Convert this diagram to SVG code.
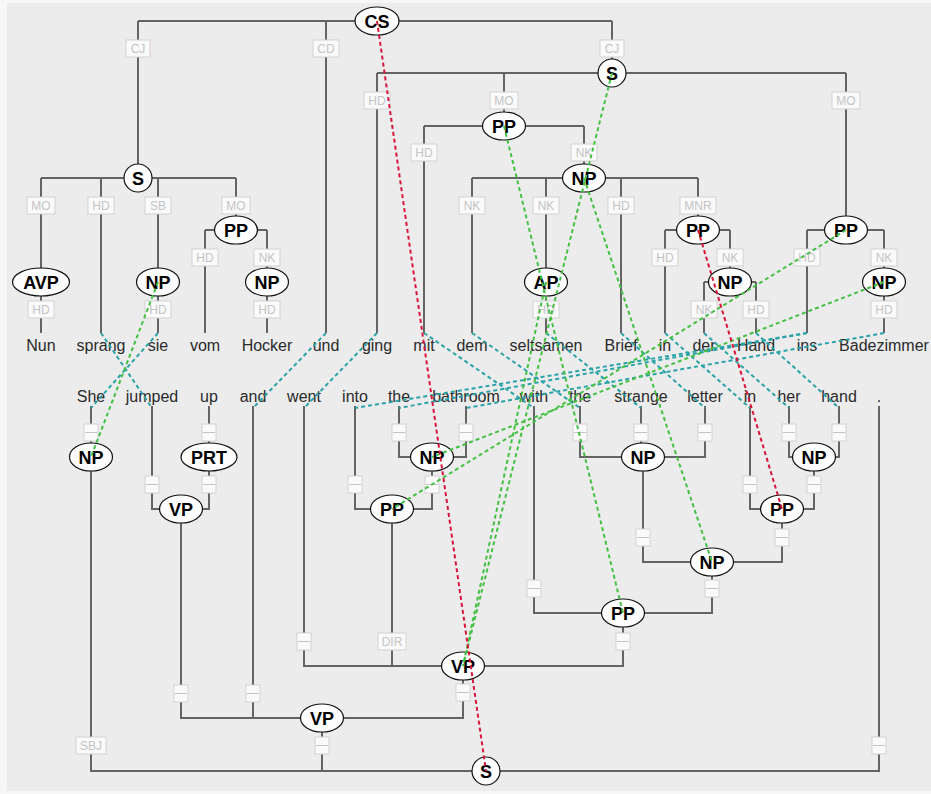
<svg xmlns="http://www.w3.org/2000/svg" width="931" height="794" viewBox="0 0 931 794">
<style>
.bg{fill:#ececec}
.e{fill:none;stroke:#646464;stroke-width:2}
.lb rect{fill:#fafafa;stroke:#d2d2d2;stroke-width:1}
.lb text{font-family:"Liberation Sans",Arial,sans-serif;font-size:12px;fill:#c4c4c4;text-anchor:middle}
.n ellipse{fill:#fdfdfd;stroke:#111;stroke-width:1.2}
.n text{font-family:"Liberation Sans",Arial,sans-serif;font-size:18px;font-weight:bold;fill:#000;text-anchor:middle}
.w{font-family:"Liberation Sans",Arial,sans-serif;font-size:16px;fill:#2a2a2a;text-anchor:middle}
.al{fill:none;stroke-width:2;stroke-dasharray:4 3}
.red{stroke:#d8143a}
.grn{stroke:#44c044}
.tea{stroke:#2aa3a8}
</style>
<rect x="0" y="0" width="931" height="794" fill="#f7f7f7"/>
<rect class="bg" x="7" y="3" width="924" height="788"/>

<g id="connectors">
<g id="tree-edges" class="e">
<path d="M138,21 H612 M138,21 V178 M326,21 V333 M612,21 V73"/>
<path d="M377,73 H846 M377,73 V333 M504,73 V126 M846,73 V230"/>
<path d="M424,126 H584 M424,126 V333 M584,126 V178"/>
<path d="M472,178 H698 M472,178 V333 M546,178 V333 M621,178 V333 M698,178 V230"/>
<path d="M665,230 H730 M665,230 V333 M730,230 V282 M704,282 H756 M704,282 V333 M756,282 V333"/>
<path d="M807,230 H884 M807,230 V333 M884,230 V333"/>
<path d="M41,178 H236 M41,178 V333 M101,178 V333 M158,178 V333 M236,178 V230"/>
<path d="M205,230 H267 M205,230 V333 M267,230 V333"/>
<path d="M91,406 V771 H879 V406"/>
<path d="M152,406 V509 H209 V406"/>
<path d="M181,509 V718 H463 V666"/>
<path d="M253,406 V718"/>
<path d="M304,406 V666 H623 V613"/>
<path d="M355,406 V509 H432 V457"/>
<path d="M399,406 V457 H466 V406"/>
<path d="M392,509 V666"/>
<path d="M534,406 V613 H712 V562"/>
<path d="M580,406 V457 H705 V406 M641,406 V457"/>
<path d="M643,457 V562 H782 V509"/>
<path d="M750,406 V509 H814 V457"/>
<path d="M789,406 V457 H839 V406"/>
<path d="M322,718 V771"/>
</g>
<g id="edge-labels" class="lb">
<rect x="126" y="40" width="24" height="17"/><text x="138" y="53">CJ</text>
<rect x="313" y="40" width="26" height="17"/><text x="326" y="53">CD</text>
<rect x="600" y="40" width="24" height="17"/><text x="612" y="53">CJ</text>
<rect x="364" y="92" width="26" height="17"/><text x="377" y="105">HD</text>
<rect x="490" y="92" width="28" height="17"/><text x="504" y="105">MO</text>
<rect x="832" y="92" width="28" height="17"/><text x="846" y="105">MO</text>
<rect x="411" y="144" width="26" height="17"/><text x="424" y="157">HD</text>
<rect x="571" y="144" width="26" height="17"/><text x="584" y="157">NK</text>
<rect x="27" y="197" width="28" height="17"/><text x="41" y="210">MO</text>
<rect x="88" y="197" width="26" height="17"/><text x="101" y="210">HD</text>
<rect x="145" y="197" width="26" height="17"/><text x="158" y="210">SB</text>
<rect x="222" y="197" width="28" height="17"/><text x="236" y="210">MO</text>
<rect x="459" y="197" width="26" height="17"/><text x="472" y="210">NK</text>
<rect x="533" y="197" width="26" height="17"/><text x="546" y="210">NK</text>
<rect x="608" y="197" width="26" height="17"/><text x="621" y="210">HD</text>
<rect x="680" y="197" width="36" height="17"/><text x="698" y="210">MNR</text>
<rect x="192" y="249" width="26" height="17"/><text x="205" y="262">HD</text>
<rect x="254" y="249" width="26" height="17"/><text x="267" y="262">NK</text>
<rect x="652" y="249" width="26" height="17"/><text x="665" y="262">HD</text>
<rect x="717" y="249" width="26" height="17"/><text x="730" y="262">NK</text>
<rect x="794" y="249" width="26" height="17"/><text x="807" y="262">HD</text>
<rect x="871" y="249" width="26" height="17"/><text x="884" y="262">NK</text>
<rect x="28" y="301" width="26" height="17"/><text x="41" y="314">HD</text>
<rect x="145" y="301" width="26" height="17"/><text x="158" y="314">HD</text>
<rect x="254" y="301" width="26" height="17"/><text x="267" y="314">HD</text>
<rect x="533" y="301" width="26" height="17"/><text x="546" y="314">HD</text>
<rect x="691" y="301" width="26" height="17"/><text x="704" y="314">NK</text>
<rect x="743" y="301" width="26" height="17"/><text x="756" y="314">HD</text>
<rect x="871" y="301" width="26" height="17"/><text x="884" y="314">HD</text>
<rect x="84" y="424" width="14" height="17"/><text x="91" y="436" font-size="8">—</text>
<rect x="202" y="424" width="14" height="17"/><text x="209" y="436" font-size="8">—</text>
<rect x="392" y="424" width="14" height="17"/><text x="399" y="436" font-size="8">—</text>
<rect x="459" y="424" width="14" height="17"/><text x="466" y="436" font-size="8">—</text>
<rect x="573" y="424" width="14" height="17"/><text x="580" y="436" font-size="8">—</text>
<rect x="634" y="424" width="14" height="17"/><text x="641" y="436" font-size="8">—</text>
<rect x="698" y="424" width="14" height="17"/><text x="705" y="436" font-size="8">—</text>
<rect x="782" y="424" width="14" height="17"/><text x="789" y="436" font-size="8">—</text>
<rect x="832" y="424" width="14" height="17"/><text x="839" y="436" font-size="8">—</text>
<rect x="145" y="476" width="14" height="17"/><text x="152" y="488" font-size="8">—</text>
<rect x="202" y="476" width="14" height="17"/><text x="209" y="488" font-size="8">—</text>
<rect x="348" y="476" width="14" height="17"/><text x="355" y="488" font-size="8">—</text>
<rect x="425" y="476" width="14" height="17"/><text x="432" y="488" font-size="8">—</text>
<rect x="743" y="476" width="14" height="17"/><text x="750" y="488" font-size="8">—</text>
<rect x="807" y="476" width="14" height="17"/><text x="814" y="488" font-size="8">—</text>
<rect x="636" y="529" width="14" height="17"/><text x="643" y="541" font-size="8">—</text>
<rect x="775" y="529" width="14" height="17"/><text x="782" y="541" font-size="8">—</text>
<rect x="527" y="580" width="14" height="17"/><text x="534" y="592" font-size="8">—</text>
<rect x="705" y="580" width="14" height="17"/><text x="712" y="592" font-size="8">—</text>
<rect x="297" y="633" width="14" height="17"/><text x="304" y="645" font-size="8">—</text>
<rect x="378" y="633" width="28" height="17"/><text x="392" y="646">DIR</text>
<rect x="616" y="633" width="14" height="17"/><text x="623" y="645" font-size="8">—</text>
<rect x="174" y="685" width="14" height="17"/><text x="181" y="697" font-size="8">—</text>
<rect x="246" y="685" width="14" height="17"/><text x="253" y="697" font-size="8">—</text>
<rect x="456" y="684" width="14" height="17"/><text x="463" y="696" font-size="8">—</text>
<rect x="76" y="737" width="30" height="17"/><text x="91" y="750">SBJ</text>
<rect x="315" y="737" width="14" height="17"/><text x="322" y="749" font-size="8">—</text>
<rect x="872" y="737" width="14" height="17"/><text x="879" y="749" font-size="8">—</text>
</g>
</g>

<g id="words-de" class="w">
<text x="41" y="351">Nun</text>
<text x="101" y="351">sprang</text>
<text x="158" y="351">sie</text>
<text x="205" y="351">vom</text>
<text x="267" y="351">Hocker</text>
<text x="326" y="351">und</text>
<text x="377" y="351">ging</text>
<text x="424" y="351">mit</text>
<text x="472" y="351">dem</text>
<text x="546" y="351">seltsamen</text>
<text x="621" y="351">Brief</text>
<text x="665" y="351">in</text>
<text x="704" y="351">der</text>
<text x="756" y="351">Hand</text>
<text x="807" y="351">ins</text>
<text x="884" y="351">Badezimmer</text>
</g>
<g id="words-en" class="w">
<text x="91" y="402">She</text>
<text x="152" y="402">jumped</text>
<text x="209" y="402">up</text>
<text x="253" y="402">and</text>
<text x="304" y="402">went</text>
<text x="355" y="402">into</text>
<text x="399" y="402">the</text>
<text x="466" y="402">bathroom</text>
<text x="534" y="402">with</text>
<text x="580" y="402">the</text>
<text x="641" y="402">strange</text>
<text x="705" y="402">letter</text>
<text x="750" y="402">in</text>
<text x="789" y="402">her</text>
<text x="839" y="402">hand</text>
<text x="879" y="402">.</text>
</g>

<g id="n-CS" class="n"><ellipse cx="377" cy="21" rx="22" ry="14"/><text x="377" y="27.5">CS</text></g>
<g id="n-S2" class="n"><ellipse cx="612" cy="73" rx="14" ry="14"/><text x="612" y="79.5">S</text></g>
<g id="n-PP-mit" class="n"><ellipse cx="504" cy="126" rx="21.5" ry="14"/><text x="504" y="132.5">PP</text></g>
<g id="n-NP-dem" class="n"><ellipse cx="584" cy="178" rx="21.5" ry="14"/><text x="584" y="184.5">NP</text></g>
<g id="n-S1" class="n"><ellipse cx="138" cy="178" rx="14" ry="14"/><text x="138" y="184.5">S</text></g>
<g id="n-PP-vom" class="n"><ellipse cx="236" cy="230" rx="21.5" ry="14"/><text x="236" y="236.5">PP</text></g>
<g id="n-PP-in" class="n"><ellipse cx="698" cy="230" rx="21.5" ry="14"/><text x="698" y="236.5">PP</text></g>
<g id="n-PP-ins" class="n"><ellipse cx="846" cy="230" rx="21.5" ry="14"/><text x="846" y="236.5">PP</text></g>
<g id="n-AVP" class="n"><ellipse cx="41" cy="282" rx="28.5" ry="14"/><text x="41" y="288.5">AVP</text></g>
<g id="n-NP-sie" class="n"><ellipse cx="158" cy="282" rx="21.5" ry="14"/><text x="158" y="288.5">NP</text></g>
<g id="n-NP-Hocker" class="n"><ellipse cx="267" cy="282" rx="21.5" ry="14"/><text x="267" y="288.5">NP</text></g>
<g id="n-AP" class="n"><ellipse cx="546" cy="282" rx="21.5" ry="14"/><text x="546" y="288.5">AP</text></g>
<g id="n-NP-der" class="n"><ellipse cx="730" cy="282" rx="21.5" ry="14"/><text x="730" y="288.5">NP</text></g>
<g id="n-NP-Bad" class="n"><ellipse cx="884" cy="282" rx="21.5" ry="14"/><text x="884" y="288.5">NP</text></g>

<g id="e-NP-she" class="n"><ellipse cx="91" cy="457" rx="21.5" ry="14"/><text x="91" y="463.5">NP</text></g>
<g id="e-PRT" class="n"><ellipse cx="209" cy="457" rx="28" ry="14"/><text x="209" y="463.5">PRT</text></g>
<g id="e-NP-bath" class="n"><ellipse cx="432" cy="457" rx="21.5" ry="14"/><text x="432" y="463.5">NP</text></g>
<g id="e-NP-letter" class="n"><ellipse cx="643" cy="457" rx="21.5" ry="14"/><text x="643" y="463.5">NP</text></g>
<g id="e-NP-hand" class="n"><ellipse cx="814" cy="457" rx="21.5" ry="14"/><text x="814" y="463.5">NP</text></g>
<g id="e-VP-jumped" class="n"><ellipse cx="181" cy="509" rx="21.5" ry="14"/><text x="181" y="515.5">VP</text></g>
<g id="e-PP-into" class="n"><ellipse cx="392" cy="509" rx="21.5" ry="14"/><text x="392" y="515.5">PP</text></g>
<g id="e-PP-in" class="n"><ellipse cx="782" cy="509" rx="21.5" ry="14"/><text x="782" y="515.5">PP</text></g>
<g id="e-NP-big" class="n"><ellipse cx="712" cy="562" rx="21.5" ry="14"/><text x="712" y="568.5">NP</text></g>
<g id="e-PP-with" class="n"><ellipse cx="623" cy="613" rx="21.5" ry="14"/><text x="623" y="619.5">PP</text></g>
<g id="e-VP-went" class="n"><ellipse cx="463" cy="666" rx="21.5" ry="14"/><text x="463" y="672.5">VP</text></g>
<g id="e-VP-top" class="n"><ellipse cx="322" cy="718" rx="21.5" ry="14"/><text x="322" y="724.5">VP</text></g>
<g id="e-S" class="n"><ellipse cx="486" cy="771" rx="14" ry="14"/><text x="486" y="777.5">S</text></g>

<g id="alignments" class="al">
<g class="tea">
<path d="M101,333 L152,408"/>
<path d="M158,333 L91,408"/>
<path d="M326,333 L253,408"/>
<path d="M377,333 L304,408"/>
<path d="M424,333 L534,408"/>
<path d="M472,333 L580,408"/>
<path d="M546,333 L641,408"/>
<path d="M621,333 L705,408"/>
<path d="M665,333 L750,408"/>
<path d="M704,333 L789,408"/>
<path d="M756,333 L839,408"/>
<path d="M807,333 L355,408"/>
<path d="M807,333 L399,408"/>
<path d="M884,333 L466,408"/>
</g>
<g class="grn">
<path d="M158,282 L91,457"/>
<path d="M612,73 L463,666"/>
<path d="M546,282 L463,666"/>
<path d="M504,126 L623,613"/>
<path d="M584,178 L712,562"/>
<path d="M846,230 L392,509"/>
<path d="M884,282 L432,457"/>
</g>
<g class="red">
<path d="M377,21 L486,771"/>
<path d="M698,230 L782,509"/>
</g>
</g>
</svg>
